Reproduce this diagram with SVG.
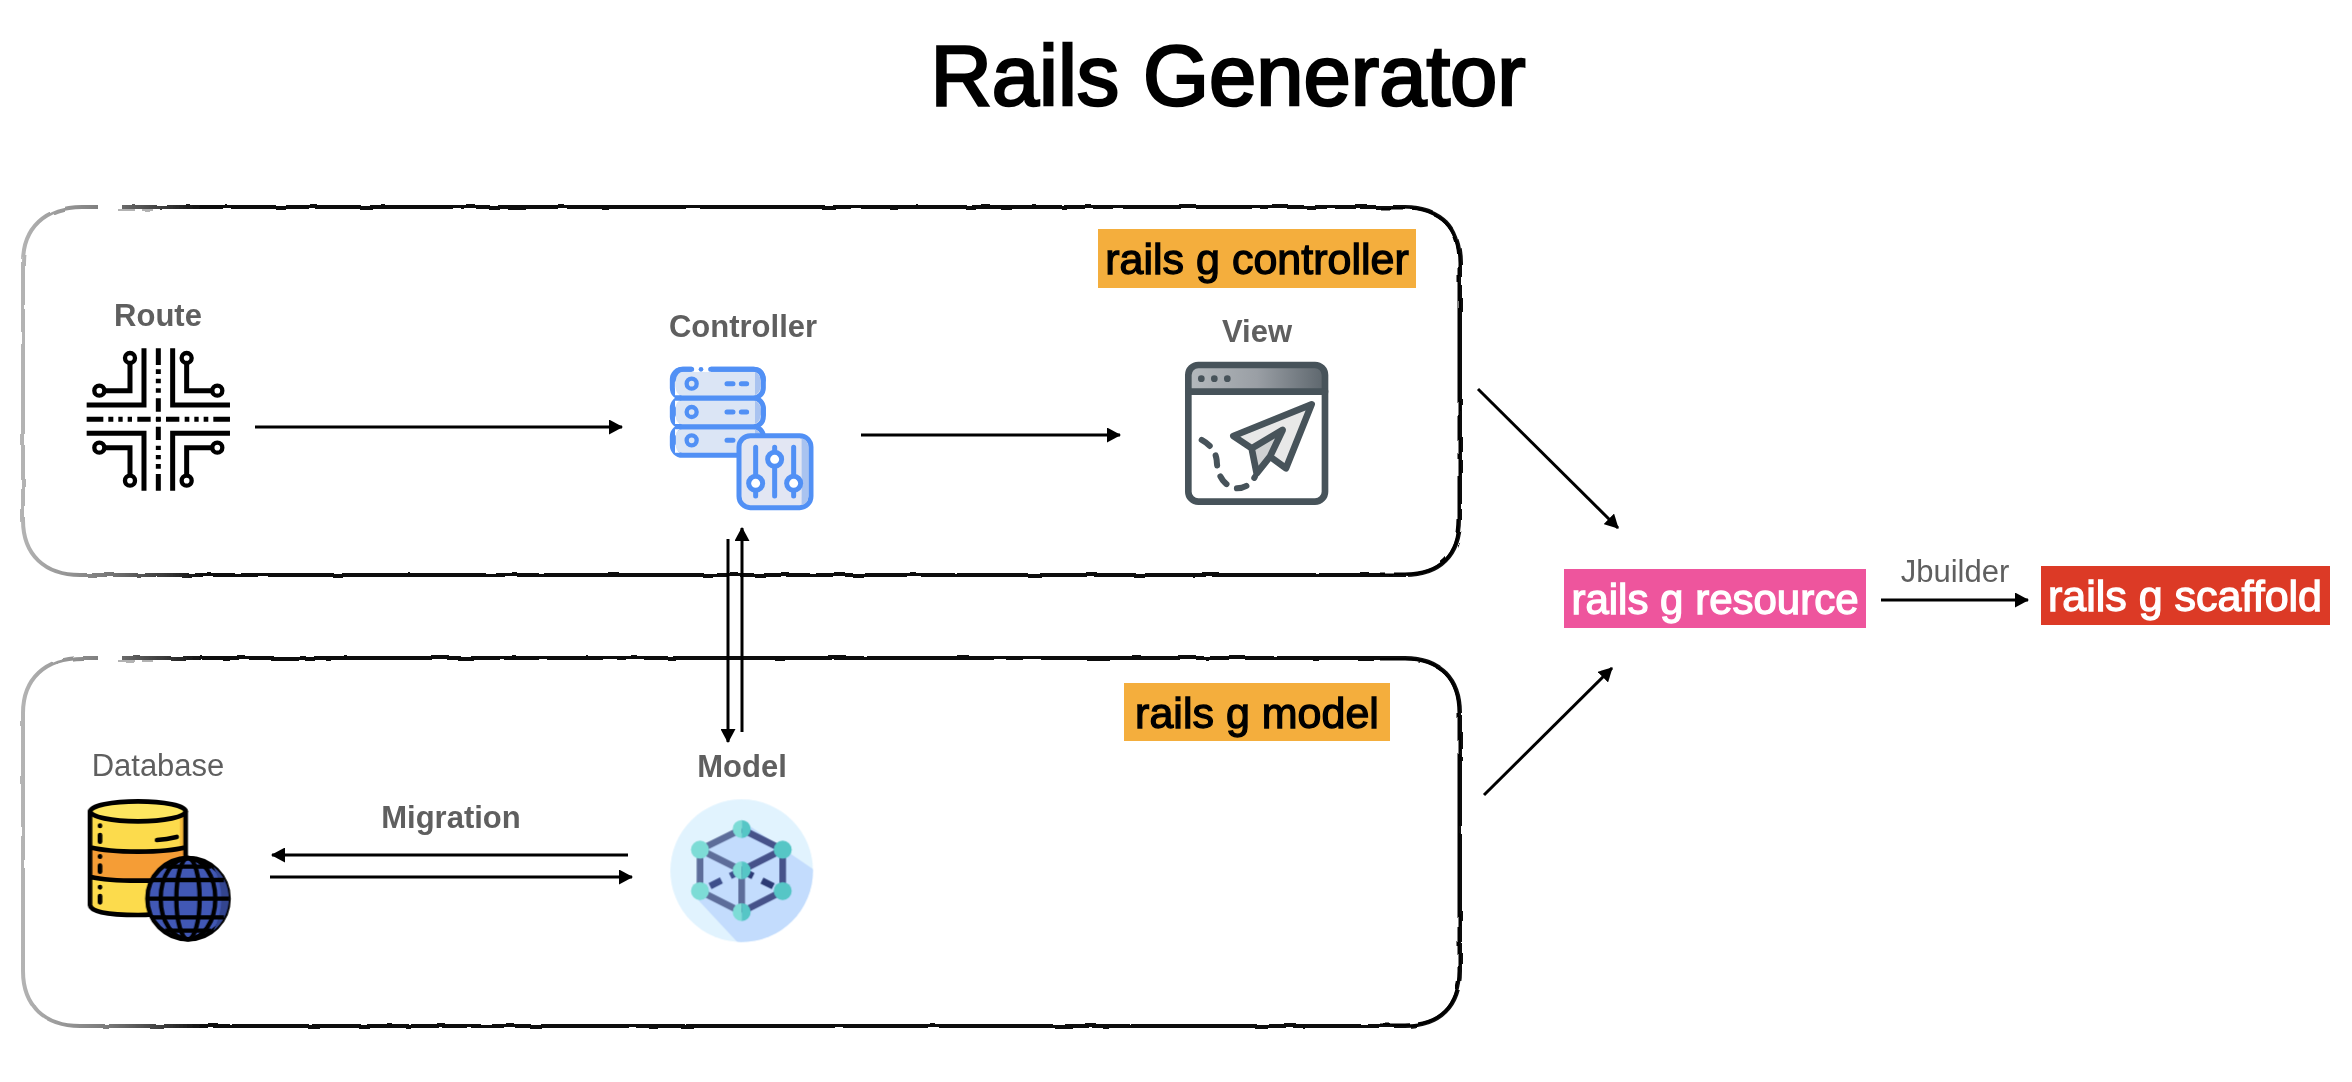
<svg xmlns="http://www.w3.org/2000/svg" width="2352" height="1082" viewBox="0 0 2352 1082">
<style>
text{font-family:"Liberation Sans",Arial,sans-serif}
.lb{font-size:31px;font-weight:700;fill:#5f5f5f;text-anchor:middle}
.lr{font-size:31px;fill:#5f5f5f;text-anchor:middle}
.tag{font-size:43px;text-anchor:middle;stroke-width:1.3px}
.k{fill:#000;stroke:#000}
.w{fill:#fff;stroke:#fff}
.c{fill:none;stroke:#000;stroke-width:3;marker-end:url(#ah)}
.box{fill:none;stroke:url(#edge);stroke-width:4;stroke-linejoin:round}
.heavy{fill:none;stroke:#000;stroke-width:3}
.thin{fill:none;stroke:#999;stroke-width:1.5}
.ro{fill:none;stroke:#000;stroke-width:15}
.rc{fill:#fff;stroke:#000;stroke-width:13}
.srv{fill:#dbe5f5;stroke:#5190f5;stroke-width:15}
.bl{fill:none;stroke:#5190f5;stroke-width:15;stroke-linecap:round}
.sw{fill:#fff;stroke:#5190f5;stroke-width:15}
.vw{fill:none;stroke:#47535a;stroke-width:20;stroke-linejoin:round;stroke-linecap:round}
.db{fill:none;stroke:#000;stroke-width:14;stroke-linecap:round}
.e1{stroke:#5d6d9a;stroke-width:20;fill:none}
.e2{stroke:#46528a;stroke-width:20;fill:none}
.e3{stroke:#2b3a75;stroke-width:20;fill:none}
.nl{fill:#7ddcd6}.nr{fill:#56c6c6}
</style>
<defs>
<marker id="ah" markerUnits="userSpaceOnUse" markerWidth="15" markerHeight="15" refX="13" refY="7.5" orient="auto"><path d="M0 0L14 7.5L0 15z" fill="#000"/></marker>
<linearGradient id="edge" gradientUnits="userSpaceOnUse" x1="20" y1="0" x2="200" y2="0"><stop offset="0" stop-color="#b5b5b5"/><stop offset=".5" stop-color="#777"/><stop offset="1" stop-color="#111"/></linearGradient>
<linearGradient id="bar" x1="0" y1="0" x2="1" y2="0"><stop offset="0" stop-color="#b4b9bd"/><stop offset=".5" stop-color="#9a9fa5"/><stop offset="1" stop-color="#5d666d"/></linearGradient>
<filter id="rough" x="-2%" y="-2%" width="104%" height="104%"><feTurbulence type="fractalNoise" baseFrequency="0.04" numOctaves="2" seed="4"/><feDisplacementMap in="SourceGraphic" scale="3"/></filter>
<path id="frame" d="M122 207H1405C1440 207 1460 228 1460 262V520C1460 555 1440 575 1405 575H80C45 575 23 555 23 520V262C23 228 45 207 82 207H98"/>
<path id="frameR" d="M1380 208H1405C1440 208 1459 228 1459 262V520C1459 555 1440 574 1405 574H1380"/>
<clipPath id="mc"><circle cx="275" cy="392" r="214"/></clipPath>
</defs>

<text id="title" x="1228" y="105" font-size="85" text-anchor="middle" fill="#000" stroke="#000" stroke-width="2.6">Rails Generator</text>

<g id="frames" filter="url(#rough)">
<use href="#frame" class="box"/>
<use href="#frameR" class="heavy"/>
<path class="thin" d="M118 210H135M142 210H153"/>
<use href="#frame" class="box" transform="translate(0 451)"/>
<use href="#frameR" class="heavy" transform="translate(0 451)"/>
<path class="thin" d="M118 661H135M142 661H153"/>
</g>

<g id="connectors">
<path class="c" d="M255 427H622"/>
<path class="c" d="M861 435H1120"/>
<path class="c" d="M728 539V742"/>
<path class="c" d="M742 732V528"/>
<path class="c" d="M628 855H272"/>
<path class="c" d="M270 877H632"/>
<path class="c" d="M1478 389L1618 528"/>
<path class="c" d="M1484 795L1612 668"/>
<path class="c" d="M1881 600H2028"/>
<text class="lb" x="451" y="828">Migration</text>
<text class="lr" x="1955" y="582">Jbuilder</text>
</g>

<g id="tag-controller"><rect x="1098" y="229" width="318" height="59" fill="#f4ae3d"/><text class="tag k" x="1257" y="274">rails g controller</text></g>
<g id="tag-model"><rect x="1124" y="683" width="266" height="58" fill="#f4ae3d"/><text class="tag k" x="1257" y="728">rails g model</text></g>
<g id="tag-resource"><rect x="1564" y="569" width="302" height="59" fill="#ee559d"/><text class="tag w" x="1715" y="614" style="font-size:42px">rails g resource</text></g>
<g id="tag-scaffold"><rect x="2041" y="566" width="289" height="59" fill="#dc3a26"/><text class="tag w" x="2185" y="611">rails g scaffold</text></g>

<g id="route">
<text class="lb" x="158" y="326">Route</text>
<g transform="translate(60 280) scale(.3333)">
<path class="ro" d="M80 375H252V205M510 375H338V205M80 460H252V632M510 460H338V632"/>
<path class="ro" d="M210 250V332H135M380 250V332H455M135 503H210V585M455 503H380V585"/>
<path class="ro" d="M295 205V255M295 268V282M295 296V310M295 325V338M295 355V395M295 412V424M295 440V480M295 497V510M295 525V538M295 552V566M295 582V632"/>
<path class="ro" d="M80 418H130M145 418H160M175 418H188M203 418H216M232 418H272M288 418H302M318 418H358M374 418H388M403 418H416M431 418H445M460 418H510"/>
<circle class="rc" cx="210" cy="234" r="15"/><circle class="rc" cx="380" cy="234" r="15"/><circle class="rc" cx="118" cy="332" r="15"/><circle class="rc" cx="472" cy="332" r="15"/><circle class="rc" cx="118" cy="503" r="15"/><circle class="rc" cx="472" cy="503" r="15"/><circle class="rc" cx="210" cy="602" r="15"/><circle class="rc" cx="380" cy="602" r="15"/>
</g>
</g>

<g id="controller">
<text class="lb" x="743" y="337">Controller</text>
<g transform="translate(640 300) scale(.3333)">
<rect x="97" y="380" width="273" height="86" rx="30" class="srv"/>
<rect x="97" y="294" width="273" height="86" rx="30" class="srv"/>
<rect x="97" y="208" width="273" height="86" rx="30" class="srv"/>
<path d="M345 216Q363 222 363 250Q363 278 345 286ZM345 302Q363 308 363 336Q363 364 345 372ZM345 388Q363 394 363 420L345 420Z" fill="#a9c3f0"/>
<path d="M120 216Q105 222 105 250Q105 278 120 286H105V216ZM120 302Q105 308 105 336Q105 364 120 372H105V302ZM120 388Q105 394 105 422Q105 450 120 458H105V388Z" fill="#fff"/>
<rect x="155" y="198" width="58" height="18" fill="#fff"/>
<circle cx="183" cy="208" r="7" fill="#5190f5"/>
<path class="bl" d="M100 240Q105 208 130 208H155M212 208H340Q368 208 370 240M100 325V345M370 325V345M100 410V430M370 410V415"/>
<circle cx="155" cy="251" r="15" fill="#dbe5f5" stroke="#5190f5" stroke-width="13"/>
<circle cx="155" cy="336" r="15" fill="#dbe5f5" stroke="#5190f5" stroke-width="13"/>
<circle cx="155" cy="421" r="15" fill="#dbe5f5" stroke="#5190f5" stroke-width="13"/>
<path class="bl" d="M261 251H279M304 251H320M261 336H279M304 336H320M261 421H279"/>
<rect x="297" y="407" width="216" height="216" rx="34" fill="#e2e6f3" stroke="#5190f5" stroke-width="15"/>
<path d="M485 415Q505 420 505 445V590Q505 610 485 615Z" fill="#a9c3f0"/>
<path class="bl" d="M347 442V588M404 442V588M461 442V588"/>
<circle class="sw" cx="347" cy="550" r="21"/><circle class="sw" cx="404" cy="478" r="21"/><circle class="sw" cx="461" cy="550" r="21"/>
</g>
</g>

<g id="view">
<text class="lb" x="1257" y="342">View</text>
<g transform="translate(1160 310) scale(.3333)">
<rect x="85" y="165" width="410" height="410" rx="30" fill="#fff"/>
<path d="M85 245V195Q85 165 115 165H465Q495 165 495 195V245Z" fill="url(#bar)"/>
<rect x="85" y="165" width="410" height="410" rx="30" class="vw"/>
<path class="vw" d="M85 245H495"/>
<circle cx="124" cy="206" r="10" fill="#47535a"/><circle cx="163" cy="206" r="10" fill="#47535a"/><circle cx="202" cy="206" r="10" fill="#47535a"/>
<path d="M455 283L220 378L275 415L290 490L330 440L378 475Z" fill="#e8e8e8"/>
<path d="M275 415L368 360L290 490Z" fill="#cfd1d2"/>
<path class="vw" d="M455 283L220 378L275 415L290 490L330 440L378 475ZM275 415L368 360L330 440"/>
<path d="M125 390Q165 412 170 450Q173 520 225 535Q265 537 285 500" fill="none" stroke="#47535a" stroke-width="18" stroke-linecap="round" stroke-dasharray="30 34"/>
</g>
</g>

<g id="database">
<text class="lr" x="158" y="776">Database</text>
<g transform="translate(70 740) scale(.3333)">
<path d="M60 214V495Q62 525 204 525Q346 525 347 495V214Z" fill="#fcdb4c"/>
<path d="M60 322Q110 335 204 335Q300 335 347 322V410Q300 420 204 420Q110 420 60 410Z" fill="#f59d36"/>
<path d="M330 225H347V322H330Z" fill="#f5b93c"/>
<ellipse cx="204" cy="214" rx="143" ry="30" fill="#fde660" stroke="#000" stroke-width="14"/>
<path class="db" d="M60 214V495Q62 525 204 525Q300 525 347 500M347 214V400M60 322Q110 335 204 335Q300 335 347 322M60 410Q110 422 204 422H260M261 300Q290 298 320 291"/>
<path class="db" d="M90 257V258M90 285V305M90 349V350M90 377V395M90 441V442M90 468V487"/>
<circle cx="354" cy="476" r="122" fill="#4158b5" stroke="#000" stroke-width="13"/>
<path d="M430 380A122 122 0 0 1 430 572Q478 476 430 380Z" fill="#33458f"/>
<ellipse cx="354" cy="476" rx="35" ry="122" fill="none" stroke="#000" stroke-width="13"/>
<ellipse cx="354" cy="476" rx="82" ry="122" fill="none" stroke="#000" stroke-width="13"/>
<path fill="none" stroke="#000" stroke-width="13" d="M232 476H476M246 420H462M246 532H462M285 380H423M285 572H423"/>
</g>
</g>

<g id="model">
<text class="lb" x="742" y="777">Model</text>
<g transform="translate(650 740) scale(.3333)">
<circle cx="275" cy="392" r="214" fill="#e1f3fe"/>
<path clip-path="url(#mc)" d="M295 255L500 395V620H275L135 470L150 329Z" fill="#c3dcfd"/>
<path class="e1" d="M275 267L150 329V453L275 516M150 329L275 391V516"/>
<path class="e2" d="M275 267L398 329V453L275 516M398 329L275 391"/>
<path class="e3" stroke-dasharray="38 30" d="M275 391L398 453"/>
<path class="e3" stroke-dasharray="38 30" d="M275 391L150 453" style="stroke:#3e4f8c"/>
<path class="nl" d="M275 240a27 27 0 0 0 0 54zM275 364a27 27 0 0 0 0 54zM275 489a27 27 0 0 0 0 54z"/>
<path class="nr" d="M275 240a27 27 0 0 1 0 54zM275 364a27 27 0 0 1 0 54zM275 489a27 27 0 0 1 0 54z"/>
<circle class="nl" cx="150" cy="329" r="27"/><circle class="nl" cx="150" cy="453" r="27"/>
<circle class="nr" cx="398" cy="329" r="27"/><circle class="nr" cx="398" cy="453" r="27"/>
</g>
</g>
</svg>
